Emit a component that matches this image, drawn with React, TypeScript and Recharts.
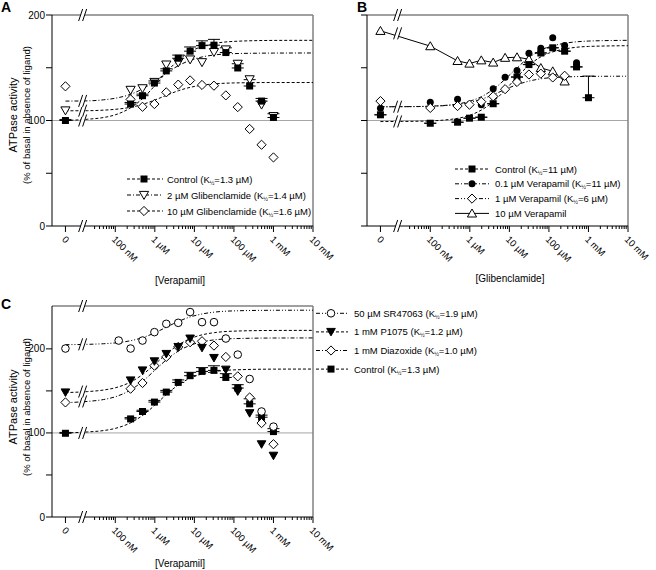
import React from "react";
import { ComposedChart, Line, Scatter, XAxis, YAxis, ReferenceLine, ErrorBar } from "recharts";

const FONT = '"Liberation Sans", Arial, Helvetica, sans-serif';
const DASHED = "3 2";
const DASH_DOT = "4 2 1 2";
const DASH_DOT_DOT = "4 2 1 2 1 2";

// x is log10 of the molar concentration, the zero dose sits left of the axis break
const ZERO_POS = -8.26;
const BREAK_POS = -7.8;
const X_MIN = -8.6;
const X_MAX = -2;
const MAJOR_TICKS = [-7, -6, -5, -4, -3, -2];
const MAJOR_LABELS = ["100 nM", "1 µM", "10 µM", "100 µM", "1 mM", "10 mM"];
const MINOR_TICKS: number[] = [];
for (let d = -8; d <= -3; d++) {
  for (let m = 2; m <= 9; m++) {
    const v = d + Math.log10(m);
    if (v > -7.55) MINOR_TICKS.push(v);
  }
}
const X_TICKS = [ZERO_POS, ...MAJOR_TICKS, ...MINOR_TICKS];
const Y_TICKS = [0, 50, 100, 150, 200];

// concentrations in µM (0 = no ligand)
const CONC_VERA = [0, 0.244, 0.488, 0.977, 1.95, 3.91, 7.81, 15.6, 31.3, 62.5, 125, 250, 500, 1000];
const CONC_VERA_SR = [0, 0.122, 0.244, 0.488, 0.977, 1.95, 3.91, 7.81, 15.6, 31.3, 62.5, 125, 250, 500, 1000];
const CONC_GLIB = [0, 0.1, 0.49, 0.98, 1.95, 3.9, 15.6, 31.25, 62.5, 125, 250, 500, 1000];
const CONC_GLIB_VP01 = [0, 0.1, 0.49, 1.95, 3.9, 7.8, 15.6, 31.25, 62.5, 125, 250, 500];
const CONC_GLIB_VP1 = [0, 0.1, 0.49, 0.98, 1.95, 3.9, 7.8, 15.6, 31.25, 62.5, 125, 250];
const CURVE_CONC = [0, 0.02, 0.05, 0.1, 0.25, 0.5, 1, 2, 4, 8, 16, 32, 100, 1000, 10000];

// panel A
const A_CTRL = [100, 115.6, 123.5, 135.5, 147, 159, 165.7, 171, 171.4, 164.4, 149.8, 132.7, 118.4, 102.9];
const A_CTRL_SEM = [1, 1.5, 1.5, 2, 2, 3, 4, 4.5, 5.5, 4.5, 4, 6, 2.5, 3.5];
const A_GLIB2 = [109.5, 129, 130.5, 136.5, 153, 155, 157.8, 155.2, 164.8, 167.3, 153.7, 139, 115, 104.1];
const A_GLIB10 = [132.4, 120, 113, 115.6, 126.7, 134, 138, 133.7, 133, 123.8, 112.7, 92, 77, 65];
const A_CTRL_FIT = [100, 101.2, 102.8, 105.4, 112.3, 121.1, 133, 146.1, 157.4, 165.4, 170.3, 173, 175, 175.9, 176];
const A_GLIB2_FIT = [118.4, 118.6, 119.6, 121.1, 125, 130.1, 137.2, 145.1, 152.1, 157.1, 160.3, 162.1, 163.4, 163.9, 164];
const A_GLIB10_FIT = [109.2, 109.3, 109.8, 110.6, 112.6, 115.4, 119.4, 124, 128.3, 131.5, 133.5, 134.7, 135.6, 136, 136];
const A_BREAKS = [0, 200, 100, 109.3, 118.6];

// panel B
const B_CTRL = [105.4, 97.4, 98.4, 102.2, 103.1, 115.9, 141.2, 153, 164, 168.9, 165.7, 150.8, 121.6];
const B_CTRL_SEM = [0, 0, 0, 0, 0, 0, 0, 0, 0, 0, 0, 0, 20.5];
const B_VP01 = [111.7, 117.4, 120.2, 114.9, 130.2, 141, 147.3, 163.8, 168.5, 178.4, 171, 154.8];
const B_VP1 = [118.4, 111.9, 113.7, 115, 117.8, 122.9, 129.7, 136.5, 143.6, 144.4, 140.8, 142.4];
const B_VP10 = [185, 170.5, 156.5, 154, 157.1, 155, 159.5, 160, 158.1, 149.8, 146.7, 137.1];
const B_CTRL_FIT = [99, 99.1, 99.3, 99.6, 100.6, 102.1, 105, 110.1, 118.2, 129.3, 141.7, 152.6, 163.9, 170.2, 170.9];
const B_VP01_FIT = [113, 113.1, 113.3, 113.6, 114.4, 115.7, 118.3, 122.7, 129.8, 139.5, 150.3, 159.9, 169.8, 175.3, 176];
const B_VP1_FIT = [113, 113.1, 113.2, 113.5, 114.2, 115.2, 117.1, 120.3, 124.6, 129.6, 134.1, 137.4, 140.4, 141.8, 142];
const B_BREAKS = [0, 200, 99.1, 113.1, 182.6];

// panel C
const C_Y_MAX = 251;
const C_CTRL = [99.6, 116.7, 125.5, 136.7, 148.6, 160.1, 168.1, 173.2, 174.4, 166, 153.4, 134.6, 118.7, 101.6];
const C_SR = [200.4, 209.9, 200.4, 209.9, 219.9, 229.8, 231, 243.8, 231.8, 231.8, 212.3, 193.2, 164.2, 125.5, 107.5];
const C_P1075 = [148.2, 162.5, 174.4, 185.2, 194, 202.3, 212.3, 201.2, 189.2, 175.3, 149.4, 123.5, 86.5, 72.9];
const C_DIAZ = [136.3, 152.6, 159.4, 180, 190.4, 202.3, 207.9, 209.1, 203.9, 190.4, 167.3, 142.2, 111.7, 86.6];
const C_SR_FIT = [205, 205.4, 206.1, 207.1, 209.8, 213.5, 219.1, 226, 232.8, 238.1, 241.6, 243.7, 245.2, 245.9, 246];
const C_P1075_FIT = [148, 149.2, 151, 153.7, 160.8, 169.8, 181.6, 194.3, 204.9, 212.3, 216.8, 219.3, 221.1, 221.9, 222];
const C_DIAZ_FIT = [136, 137.5, 139.7, 143, 151.4, 161.7, 174.5, 187.3, 197.6, 204.4, 208.5, 210.7, 212.2, 212.9, 213];
const C_BREAKS = [0, C_Y_MAX, 100, 137.5, 149.2, 205.4];

// legends
const A_NAMES = ["Control", "2 µM Glibenclamide", "10 µM Glibenclamide"];
const A_K = ["1.3", "1.4", "1.6"];
const B_NAMES = ["Control", "0.1 µM Verapamil", "1 µM Verapamil", "10 µM Verapamil"];
const B_K = ["11", "11", "6", ""];
const C_NAMES = ["50 µM SR47063", "1 mM P1075", "1 mM Diazoxide", "Control"];
const C_K = ["1.9", "1.2", "1.0", "1.3"];

type Pt = { x: number; y: number; e: number | number[] };
type MarkerKind = "square" | "circle" | "circleOpen" | "diamondOpen" | "triDown" | "triDownOpen" | "triUpOpen";

const toX = (um: number) => (um === 0 ? ZERO_POS : Math.log10(um) - 6);
const pts = (conc: number[], vals: number[], sem?: number[]): Pt[] =>
  conc.map((c, i) => ({ x: toX(c), y: vals[i], e: sem ? [0, sem[i]] : 0 }));
const brk = (ys: number[]): Pt[] => ys.map((y) => ({ x: BREAK_POS, y, e: 0 }));

function Marker({ kind, cx, cy }: { kind: MarkerKind; cx: number; cy: number }) {
  const s = { stroke: "#000", strokeWidth: 1 };
  switch (kind) {
    case "square":
      return <rect x={cx - 3.5} y={cy - 3.5} width={7} height={7} fill="#000" />;
    case "circle":
      return <circle cx={cx} cy={cy} r={3.5} fill="#000" />;
    case "circleOpen":
      return <circle cx={cx} cy={cy} r={3.8} fill="#fff" {...s} />;
    case "diamondOpen":
      return <polygon points={`${cx},${cy - 4.6} ${cx + 4.6},${cy} ${cx},${cy + 4.6} ${cx - 4.6},${cy}`} fill="#fff" {...s} />;
    case "triDown":
      return <polygon points={`${cx - 4.3},${cy - 3.5} ${cx + 4.3},${cy - 3.5} ${cx},${cy + 4}`} fill="#000" {...s} />;
    case "triDownOpen":
      return <polygon points={`${cx - 4.6},${cy - 3.6} ${cx + 4.6},${cy - 3.6} ${cx},${cy + 4.4}`} fill="#fff" {...s} />;
    default:
      return <polygon points={`${cx - 4.6},${cy + 3.6} ${cx + 4.6},${cy + 3.6} ${cx},${cy - 4.4}`} fill="#fff" {...s} />;
  }
}

function BreakMark(props: any) {
  const { cx, cy } = props;
  return (
    <g>
      <polygon points={`${cx - 5},${cy + 6} ${cx - 1},${cy - 6} ${cx + 3},${cy - 6} ${cx - 1},${cy + 6}`} fill="#fff" />
      <line x1={cx - 5} y1={cy + 6} x2={cx - 1} y2={cy - 6} stroke="#000" />
      <line x1={cx - 1} y1={cy + 6} x2={cx + 3} y2={cy - 6} stroke="#000" />
    </g>
  );
}

function XTick(props: any) {
  const { x, y, payload } = props;
  const i = MAJOR_TICKS.indexOf(payload.value);
  const label = payload.value === ZERO_POS ? "0" : i >= 0 ? MAJOR_LABELS[i] : "";
  const tx = x - 4;
  const ty = y + 14;
  return (
    <g>
      <line x1={x} y1={y} x2={x} y2={y + (label ? 6 : 3)} stroke="#000" />
      {label && (
        <text x={tx} y={ty} transform={`rotate(45 ${tx} ${ty})`} fontSize={9.5} fontFamily={FONT} fill="#000">
          {label}
        </text>
      )}
    </g>
  );
}

type Curve = { data: Pt[]; dash?: string; linear?: boolean };
type Series = { data: Pt[]; marker: MarkerKind; err?: boolean };

function Panel({
  width,
  height,
  right,
  bottom,
  yMax,
  yLabels,
  curves,
  series,
  breaks,
}: {
  width: number;
  height: number;
  right: number;
  bottom: number;
  yMax: number;
  yLabels: boolean;
  curves: Curve[];
  series: Series[];
  breaks: Pt[];
}) {
  return (
    <ComposedChart width={width} height={height} margin={{ top: 15, right, bottom, left: 0 }}>
      <XAxis
        type="number"
        dataKey="x"
        domain={[X_MIN, X_MAX]}
        ticks={X_TICKS}
        interval={0}
        tick={<XTick />}
        tickLine={false}
        tickSize={0}
        tickMargin={0}
        height={44}
        axisLine={{ stroke: "#000" }}
      />
      <YAxis
        type="number"
        domain={[0, yMax]}
        ticks={Y_TICKS}
        interval={0}
        width={52}
        tickSize={6}
        tickMargin={1}
        tickFormatter={(v: number) => (yLabels && v % 100 === 0 ? String(v) : "")}
        tick={{ fontSize: 10, fill: "#000", fontFamily: FONT }}
        axisLine={{ stroke: "#000" }}
        tickLine={{ stroke: "#000" }}
      />
      <ReferenceLine y={100} stroke="#a6a6a6" />
      <ReferenceLine y={yMax} stroke="#808080" strokeWidth={1.5} />
      <ReferenceLine x={X_MAX} stroke="#808080" strokeWidth={1.5} />
      {curves.map((c, i) => (
        <Line
          key={"c" + i}
          data={c.data}
          dataKey="y"
          type={c.linear ? "linear" : "monotone"}
          stroke="#000"
          strokeWidth={1}
          strokeDasharray={c.dash}
          dot={false}
          activeDot={false}
          isAnimationActive={false}
        />
      ))}
      <Scatter data={breaks} dataKey="y" shape={BreakMark} isAnimationActive={false} />
      {series.map((s, i) => (
        <Scatter
          key={"s" + i}
          data={s.data}
          dataKey="y"
          shape={(p: any) => <Marker kind={s.marker} cx={p.cx} cy={p.cy} />}
          isAnimationActive={false}
        >
          {s.err && <ErrorBar dataKey="e" direction="y" width={6} stroke="#000" strokeWidth={1} />}
        </Scatter>
      ))}
    </ComposedChart>
  );
}

function LegendRows({
  names,
  ks,
  markers,
  dashes,
  x1,
  x2,
  mx,
  tx,
  y0,
  dy,
}: {
  names: string[];
  ks: string[];
  markers: MarkerKind[];
  dashes: (string | undefined)[];
  x1: number;
  x2: number;
  mx: number;
  tx: number;
  y0: number;
  dy: number;
}) {
  return (
    <g>
      {names.map((n, i) => {
        const y = y0 + i * dy;
        return (
          <g key={n}>
            <line x1={x1} y1={y} x2={x2} y2={y} stroke="#000" strokeDasharray={dashes[i]} />
            <Marker kind={markers[i]} cx={mx} cy={y} />
            <text x={tx} y={y + 3.5} fontSize={9.5} fontFamily={FONT} fill="#000">
              {ks[i] ? (
                <>
                  <tspan>{n} (K</tspan>
                  <tspan fontSize={5.5} dy={2}>½</tspan>
                  <tspan dy={-2}>={ks[i]} µM)</tspan>
                </>
              ) : (
                n
              )}
            </text>
          </g>
        );
      })}
    </g>
  );
}

function YTitle({ cy }: { cy: number }) {
  return (
    <g fontFamily={FONT} fill="#000" textAnchor="middle">
      <text x={17} y={cy} transform={`rotate(-90 17 ${cy})`} fontSize={11}>
        ATPase activity
      </text>
      <text x={29.5} y={cy} transform={`rotate(-90 29.5 ${cy})`} fontSize={9.5}>
        (% of basal in absence of ligand)
      </text>
    </g>
  );
}

export default function App() {
  return (
    <div style={{ position: "absolute", left: 0, top: 0, width: 656, height: 570, background: "#fff", fontFamily: FONT }}>
      <div style={{ position: "absolute", left: 0, top: 0 }}>
        <Panel
          width={345}
          height={300}
          right={32}
          bottom={30}
          yMax={200}
          yLabels
          curves={[
            { data: pts(CURVE_CONC, A_CTRL_FIT), dash: DASHED },
            { data: pts(CURVE_CONC, A_GLIB2_FIT), dash: DASH_DOT },
            { data: pts(CURVE_CONC, A_GLIB10_FIT), dash: DASHED },
          ]}
          series={[
            { data: pts(CONC_VERA, A_GLIB10), marker: "diamondOpen" },
            { data: pts(CONC_VERA, A_GLIB2), marker: "triDownOpen" },
            { data: pts(CONC_VERA, A_CTRL, A_CTRL_SEM), marker: "square", err: true },
          ]}
          breaks={brk(A_BREAKS)}
        />
      </div>
      <div style={{ position: "absolute", left: 315, top: 0 }}>
        <Panel
          width={341}
          height={300}
          right={28}
          bottom={30}
          yMax={200}
          yLabels={false}
          curves={[
            { data: pts(CURVE_CONC, B_CTRL_FIT), dash: DASHED },
            { data: pts(CURVE_CONC, B_VP01_FIT), dash: DASH_DOT },
            { data: pts(CURVE_CONC, B_VP1_FIT), dash: DASH_DOT_DOT },
            { data: pts(CONC_GLIB_VP1, B_VP10), linear: true },
          ]}
          series={[
            { data: pts(CONC_GLIB_VP1, B_VP10), marker: "triUpOpen" },
            { data: pts(CONC_GLIB, B_CTRL, B_CTRL_SEM), marker: "square", err: true },
            { data: pts(CONC_GLIB_VP01, B_VP01), marker: "circle" },
            { data: pts(CONC_GLIB_VP1, B_VP1), marker: "diamondOpen" },
          ]}
          breaks={brk(B_BREAKS)}
        />
      </div>
      <div style={{ position: "absolute", left: 0, top: 291 }}>
        <Panel
          width={656}
          height={279}
          right={343}
          bottom={9}
          yMax={C_Y_MAX}
          yLabels
          curves={[
            { data: pts(CURVE_CONC, C_SR_FIT), dash: DASH_DOT_DOT },
            { data: pts(CURVE_CONC, C_P1075_FIT), dash: DASHED },
            { data: pts(CURVE_CONC, C_DIAZ_FIT), dash: DASH_DOT },
            { data: pts(CURVE_CONC, A_CTRL_FIT), dash: DASHED },
          ]}
          series={[
            { data: pts(CONC_VERA, C_CTRL, A_CTRL_SEM), marker: "square", err: true },
            { data: pts(CONC_VERA, C_DIAZ), marker: "diamondOpen" },
            { data: pts(CONC_VERA, C_P1075), marker: "triDown" },
            { data: pts(CONC_VERA_SR, C_SR), marker: "circleOpen" },
          ]}
          breaks={brk(C_BREAKS)}
        />
      </div>
      <svg width={656} height={570} style={{ position: "absolute", left: 0, top: 0, pointerEvents: "none" }}>
        <g fontFamily={FONT} fontWeight="bold" fontSize={14} fill="#000">
          <text x={1} y={12}>A</text>
          <text x={357} y={12}>B</text>
          <text x={1} y={309}>C</text>
        </g>
        <YTitle cy={115} />
        <YTitle cy={407} />
        <g fontFamily={FONT} fontSize={10} fill="#000" textAnchor="middle">
          <text x={180} y={284}>[Verapamil]</text>
          <text x={510} y={282}>[Glibenclamide]</text>
          <text x={180} y={567}>[Verapamil]</text>
        </g>
        <LegendRows
          names={A_NAMES}
          ks={A_K}
          markers={["square", "triDownOpen", "diamondOpen"]}
          dashes={[DASHED, DASH_DOT, DASHED]}
          x1={127}
          x2={163}
          mx={144}
          tx={167}
          y0={179}
          dy={16}
        />
        <LegendRows
          names={B_NAMES}
          ks={B_K}
          markers={["square", "circle", "diamondOpen", "triUpOpen"]}
          dashes={[DASHED, DASH_DOT, DASH_DOT_DOT, undefined]}
          x1={455}
          x2={489}
          mx={472}
          tx={495}
          y0={169}
          dy={14.8}
        />
        <LegendRows
          names={C_NAMES}
          ks={C_K}
          markers={["circleOpen", "triDown", "diamondOpen", "square"]}
          dashes={[DASH_DOT_DOT, DASHED, DASH_DOT, DASHED]}
          x1={316}
          x2={348}
          mx={331}
          tx={354}
          y0={313.3}
          dy={18.6}
        />
      </svg>
    </div>
  );
}
